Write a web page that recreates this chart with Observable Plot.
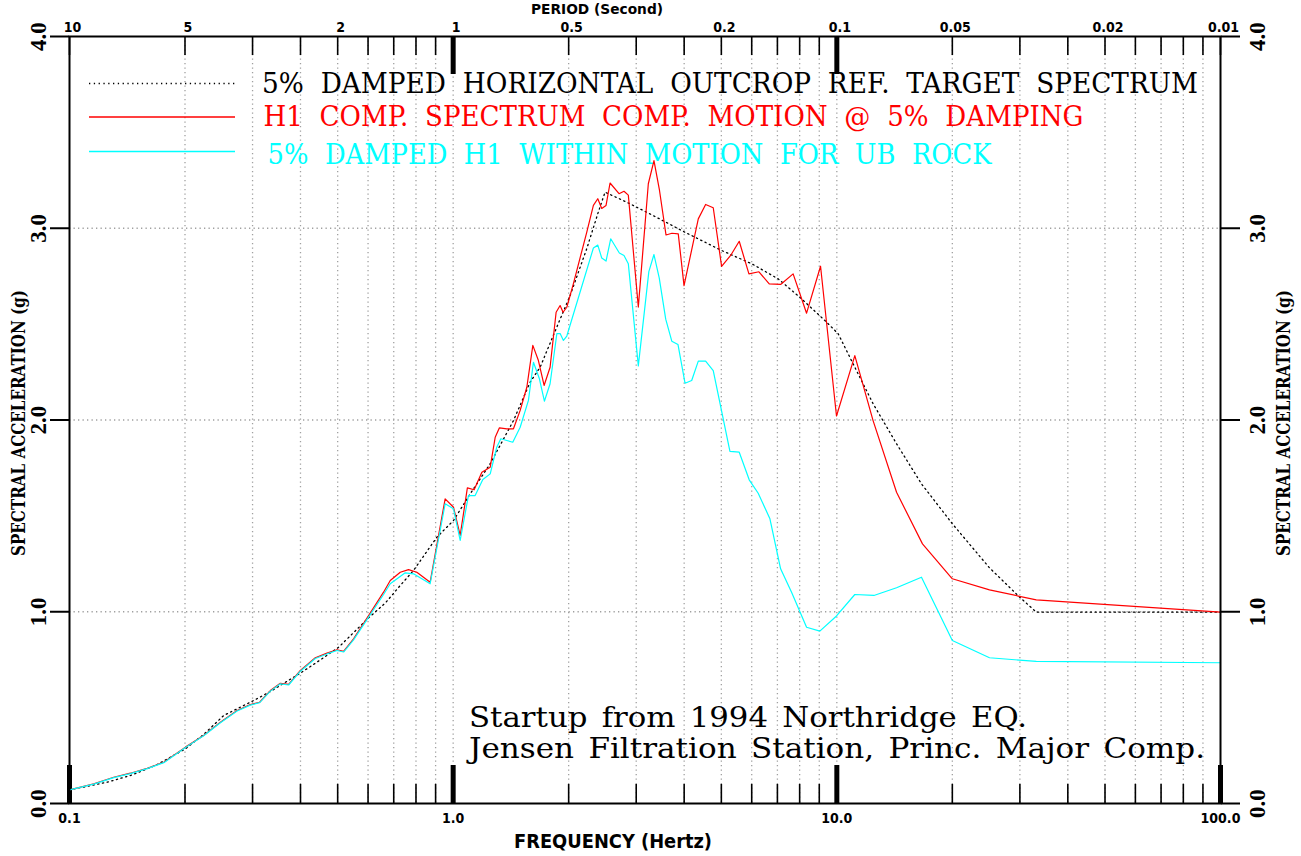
<!DOCTYPE html>
<html><head><meta charset="utf-8">
<script src="https://cdn.jsdelivr.net/npm/d3@7"></script>
<script src="https://cdn.jsdelivr.net/npm/@observablehq/plot@0.6"></script>
<style>html,body{margin:0;padding:0;background:#fff;} #chart svg{display:block;}</style>
</head><body><div id="chart"></div>
<script>
// ---- data (frequency in Hz, spectral acceleration in g) ----
const targetFreq = [0.1,0.1254,0.1441,0.1675,0.2005,0.2237,0.2523,0.302,0.3338,0.3997,0.4416,0.503,0.602,0.665,0.728,0.788,0.907,1.002,1.108,1.249,1.436,1.587,1.685,1.824,2.017,2.229,2.389,2.488,2.834,3.323,4.021,5.008,5.997,7.033,8.009,9.307,10.08,11.14,12.43,14.31,16.62,20.0,25.0,29.97,33.1,100];
const targetSa = [0.071,0.111,0.146,0.198,0.285,0.360,0.459,0.537,0.584,0.680,0.737,0.815,0.968,1.045,1.137,1.215,1.389,1.476,1.615,1.772,1.997,2.197,2.275,2.441,2.649,2.893,3.084,3.188,3.136,3.066,2.979,2.884,2.815,2.736,2.640,2.519,2.450,2.275,2.085,1.876,1.667,1.459,1.229,1.076,0.998,0.998];

const redFreq = [0.1,0.1157,0.1304,0.1441,0.1594,0.1761,0.2005,0.2237,0.2473,0.2734,0.296,0.313,0.3338,0.3544,0.3725,0.3997,0.4372,0.469,0.498,0.518,0.55,0.602,0.6585,0.6855,0.728,0.765,0.804,0.871,0.953,1.002,1.043,1.089,1.134,1.188,1.249,1.287,1.32,1.38,1.436,1.495,1.556,1.613,1.668,1.726,1.789,1.855,1.9,1.934,1.978,2.057,2.229,2.32,2.382,2.439,2.503,2.564,2.706,2.788,2.861,3.038,3.226,3.337,3.45,3.587,3.718,3.861,3.997,4.354,4.55,4.763,5.008,5.287,5.567,5.9,6.266,6.665,7.136,7.693,8.339,9.069,9.98,11.14,12.43,14.31,16.72,20.0,25.0,33.1,100];
const redSa = [0.071,0.103,0.137,0.158,0.184,0.215,0.294,0.355,0.424,0.485,0.516,0.528,0.589,0.627,0.621,0.694,0.760,0.784,0.802,0.794,0.859,0.980,1.102,1.163,1.206,1.220,1.206,1.154,1.589,1.545,1.398,1.646,1.636,1.728,1.754,1.910,1.959,1.954,1.954,2.050,2.171,2.389,2.310,2.180,2.275,2.562,2.597,2.562,2.588,2.710,2.979,3.119,3.154,3.103,3.119,3.236,3.180,3.193,3.173,2.589,3.232,3.353,3.197,2.965,2.974,2.971,2.701,3.049,3.124,3.107,2.801,2.858,2.932,2.762,2.773,2.710,2.707,2.762,2.557,2.802,2.021,2.336,1.997,1.623,1.354,1.172,1.114,1.062,0.998];

const cyanFreq = [0.1,0.1157,0.1304,0.1441,0.1594,0.1761,0.2005,0.2237,0.2473,0.2734,0.296,0.313,0.3338,0.3544,0.3725,0.3997,0.4372,0.469,0.498,0.518,0.55,0.602,0.6585,0.6855,0.75,0.788,0.871,0.953,1.002,1.043,1.096,1.141,1.195,1.249,1.299,1.331,1.38,1.43,1.495,1.571,1.619,1.678,1.729,1.789,1.863,1.9,1.938,1.978,2.32,2.382,2.439,2.503,2.574,2.711,2.788,2.861,3.038,3.236,3.337,3.444,3.581,3.714,3.854,4.021,4.185,4.354,4.55,4.763,5.265,5.567,5.91,6.238,6.693,7.136,7.621,8.339,9.03,9.98,11.14,12.49,14.31,16.62,20.0,25.0,33.1,100];
const cyanSa = [0.071,0.101,0.135,0.156,0.182,0.213,0.292,0.353,0.421,0.482,0.513,0.526,0.586,0.624,0.618,0.690,0.756,0.780,0.798,0.790,0.853,0.972,1.090,1.146,1.203,1.198,1.146,1.563,1.537,1.372,1.606,1.606,1.690,1.719,1.858,1.902,1.893,1.884,1.962,2.102,2.301,2.215,2.098,2.189,2.450,2.451,2.415,2.438,2.897,2.912,2.845,2.829,2.945,2.871,2.858,2.815,2.282,2.774,2.863,2.741,2.526,2.411,2.394,2.192,2.206,2.307,2.307,2.258,1.836,1.832,1.688,1.618,1.485,1.224,1.102,0.919,0.899,0.978,1.090,1.085,1.125,1.180,0.850,0.760,0.741,0.734];

// ---- ticks & labels ----
const decades = [0.1, 1, 10];
const multipliers = [1,2,3,4,5,6,7,8,9];
const majorFreq = [0.1, 1, 10, 100];
const freqLabels = ["0.1", "1.0", "10.0", "100.0"];
const topMajorFreq = [1, 10];
const periodTicks = [10, 5, 2, 1, 0.5, 0.2, 0.1, 0.05, 0.02, 0.01];
const periodLabels = ["10", "5", "2", "1", "0.5", "0.2", "0.1", "0.05", "0.02", "0.01"];
const yTicks = [0, 1, 2, 3, 4];
const yLabels = ["0.0", "1.0", "2.0", "3.0", "4.0"];
const yGrid = [1, 2, 3];

const legendTexts = [
  "5% DAMPED HORIZONTAL OUTCROP REF. TARGET SPECTRUM",
  "H1 COMP. SPECTRUM COMP. MOTION @ 5% DAMPING",
  "5% DAMPED H1 WITHIN MOTION FOR UB ROCK"
];
const noteTexts = ["Startup from 1994 Northridge EQ.", "Jensen Filtration Station, Princ. Major Comp."];

// ---- layout ----
const W = 1301, H = 856, mL = 69, mR = 81, mT = 36, mB = 53;
const innerH = H - mT - mB;
const minorFreq = decades.flatMap(d => multipliers.map(m => +(d * m).toPrecision(3))).concat([100]);
const rows = (f, v) => f.map((x, i) => ({f: x, sa: v[i]}));
const sansC = "'Liberation Sans Narrow','DejaVu Sans Condensed','Liberation Sans',sans-serif";
const serif = "'Liberation Serif','DejaVu Serif',serif";
const wideSerif = "'DejaVu Serif','Liberation Serif',serif";
const grid = {stroke: "#a0a0a0", strokeOpacity: 1, strokeWidth: 1.3, strokeDasharray: "1.3,3.2"};

const chart = Plot.plot({
  width: W, height: H,
  marginLeft: mL, marginRight: mR, marginTop: mT, marginBottom: mB,
  style: {background: "white", overflow: "visible"},
  x: {type: "log", domain: [0.1, 100], axis: null},
  y: {domain: [0, 4], axis: null},
  marks: [
    Plot.gridX(minorFreq.filter(f => f > 0.1 && f < 100), grid),
    Plot.gridY(yGrid, grid),
    Plot.ruleX(minorFreq, {insetTop: innerH - 19, stroke: "black", strokeWidth: 1.6}),
    Plot.ruleX(minorFreq, {insetBottom: innerH - 19, stroke: "black", strokeWidth: 1.6}),
    Plot.ruleX(majorFreq, {insetTop: innerH - 38, stroke: "black", strokeWidth: 5}),
    Plot.ruleX(topMajorFreq, {insetBottom: innerH - 38, stroke: "black", strokeWidth: 5}),
    Plot.axisY(yTicks, {anchor: "left", tickSize: 19, tickFormat: () => "", label: null, strokeWidth: 2}),
    Plot.axisY(yTicks, {anchor: "right", tickSize: 19, tickFormat: () => "", label: null, strokeWidth: 2}),
    Plot.line(rows(targetFreq, targetSa), {x: "f", y: "sa", stroke: "black", strokeWidth: 1.3, strokeDasharray: "1.3,3.5"}),
    Plot.line(rows(redFreq, redSa), {x: "f", y: "sa", stroke: "#ff0000", strokeWidth: 1.2}),
    Plot.line(rows(cyanFreq, cyanSa), {x: "f", y: "sa", stroke: "#00ffff", strokeWidth: 1.2}),
    Plot.frame({stroke: "black", strokeWidth: 2}),
    Plot.text(yTicks, {y: d => d, text: (d, i) => yLabels[i], frameAnchor: "left", dx: -31, rotate: -90,
      fontSize: 23, fontWeight: "bold", fontFamily: serif, textAnchor: "middle", lineAnchor: "middle", fill: "black"}),
    Plot.text(yTicks, {y: d => d, text: (d, i) => yLabels[i], frameAnchor: "right", dx: 37, rotate: -90,
      fontSize: 23, fontWeight: "bold", fontFamily: serif, textAnchor: "middle", lineAnchor: "middle", fill: "black"}),
    Plot.text(majorFreq, {x: d => d, text: (d, i) => freqLabels[i], frameAnchor: "bottom", dy: 15,
      fontSize: 14, fontWeight: "bold", fontFamily: sansC, lineAnchor: "middle", fill: "black"}),
    Plot.text(periodTicks, {x: d => 1 / d, text: (d, i) => periodLabels[i], frameAnchor: "top", dx: 3, dy: -9,
      fontSize: 14, fontWeight: "bold", fontFamily: sansC, lineAnchor: "middle", fill: "black"})
  ]
});
document.getElementById("chart").appendChild(chart);

// ---- titles, legend and note drawn over the chart ----
const svg = d3.select(chart);
function txt(s, o) {
  const t = svg.append("text").text(s)
    .attr("x", o.x).attr("y", o.y)
    .attr("font-family", o.family).attr("font-size", o.size)
    .attr("font-weight", o.weight || "normal")
    .attr("fill", o.fill || "black")
    .attr("text-anchor", o.anchor || "start");
  if (o.wordSpacing) t.attr("word-spacing", o.wordSpacing);
  if (o.len) t.attr("textLength", o.len).attr("lengthAdjust", o.adjust || "spacingAndGlyphs");
  if (o.rotate) t.attr("transform", `rotate(${o.rotate},${o.x},${o.y})`);
  return t;
}
txt("PERIOD (Second)", {x: 597, y: 14, family: sansC, size: 14, weight: "bold", anchor: "middle", len: 132});
txt("FREQUENCY (Hertz)", {x: 613, y: 848, family: sansC, size: 19, weight: "bold", anchor: "middle", len: 198});
txt("SPECTRAL ACCELERATION (g)", {x: 25, y: 423, family: wideSerif, size: 18, weight: "bold", anchor: "middle", len: 266, rotate: -90});
txt("SPECTRAL ACCELERATION (g)", {x: 1290, y: 423, family: wideSerif, size: 18, weight: "bold", anchor: "middle", len: 266, rotate: -90});

const legendColors = ["black", "#ff0000", "#00ffff"];
const legendLineY = [83.5, 117, 151.5];
const legendTextX = [262, 263.5, 267.5];
const legendTextY = [93, 126, 164];
const legendLen = [936, 820, 724];
legendTexts.forEach((s, i) => {
  const l = svg.append("line").attr("x1", 89).attr("x2", 235).attr("y1", legendLineY[i]).attr("y2", legendLineY[i])
    .attr("stroke", legendColors[i]).attr("stroke-width", 1.3);
  if (i === 0) l.attr("stroke-dasharray", "1.3,3.5");
  txt(s, {x: legendTextX[i], y: legendTextY[i], family: wideSerif, size: 28, fill: legendColors[i],
    len: legendLen[i], adjust: "spacingAndGlyphs", wordSpacing: 9});
});
txt(noteTexts[0], {x: 469, y: 727, family: wideSerif, size: 28, len: 558, adjust: "spacingAndGlyphs", wordSpacing: 4});
txt(noteTexts[1], {x: 469, y: 758, family: wideSerif, size: 28, len: 736, adjust: "spacingAndGlyphs", wordSpacing: 4});
</script>
</body></html>
